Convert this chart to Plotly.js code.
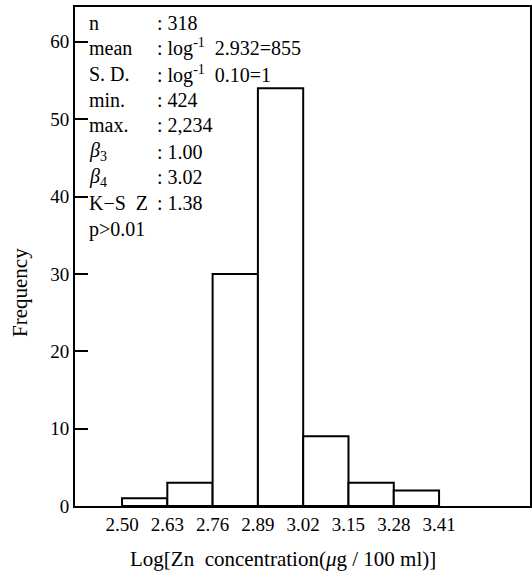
<!DOCTYPE html>
<html>
<head>
<meta charset="utf-8">
<script src="https://cdn.plot.ly/plotly-3.0.1.min.js"></script>
<style>html,body{margin:0;padding:0;background:#fff;}#chart{width:532px;height:580px;}</style>
</head>
<body>
<div id="chart"></div>
<script>
// Data
var binEdges = [2.50, 2.63, 2.76, 2.89, 3.02, 3.15, 3.28, 3.41];
var counts = [1, 3, 30, 54, 9, 3, 2];
var tickLabels = ['2.50', '2.63', '2.76', '2.89', '3.02', '3.15', '3.28', '3.41'];
var yTicks = [0, 10, 20, 30, 40, 50, 60];
var statLabels = ['n', 'mean', 'S. D.', 'min.', 'max.', '<i>β</i><sub>3</sub>', '<i>β</i><sub>4</sub>', 'K−S  Z', 'p>0.01'];
var statValues = [': 318', ': log<sup>-1</sup>  2.932=855', ': log<sup>-1</sup>  0.10=1', ': 424', ': 2,234', ': 1.00', ': 3.02', ': 1.38', ''];

var centers = [], widths = [];
for (var i = 0; i < counts.length; i++) {
  centers.push((binEdges[i] + binEdges[i + 1]) / 2);
  widths.push(binEdges[i + 1] - binEdges[i]);
}

var W = 532, H = 580;
var mL = 75, mR = 2, mT = 7, mB = 74;
function px(x) { return (x - mL) / (W - mL - mR); }
function py(y) { return (H - mB - y) / (H - mT - mB); }

var font = 'Liberation Serif, Times New Roman, serif';
var rowY = [23, 48, 74, 100, 125, 152, 177, 203, 229];
var annotations = [];
for (var k = 0; k < statLabels.length; k++) {
  annotations.push({xref: 'paper', yref: 'paper', x: px(87), y: py(rowY[k]), xanchor: 'left', yanchor: 'middle',
    text: statLabels[k], showarrow: false, font: {family: font, size: 20, color: '#000'}});
  if (statValues[k]) {
    annotations.push({xref: 'paper', yref: 'paper', x: px(155), y: py(rowY[k]), xanchor: 'left', yanchor: 'middle',
      text: statValues[k], showarrow: false, font: {family: font, size: 20, color: '#000'}});
  }
}
annotations.push({xref: 'paper', yref: 'paper', x: px(20), y: py(293), xanchor: 'center', yanchor: 'middle',
  text: 'Frequency', textangle: -90, showarrow: false, font: {family: font, size: 21, color: '#000'}});
annotations.push({xref: 'paper', yref: 'paper', x: px(283), y: py(559), xanchor: 'center', yanchor: 'middle',
  text: 'Log[Zn  concentration(<i>μ</i>g / 100 ml)]', showarrow: false, font: {family: font, size: 21, color: '#000'}});

var trace = {
  type: 'bar', x: centers, y: counts, width: widths,
  marker: {color: '#fff', line: {color: '#000', width: 2}},
  hoverinfo: 'none'
};

var layout = {
  width: W, height: H,
  margin: {l: mL, r: mR, t: mT, b: mB, pad: 0},
  paper_bgcolor: '#fff', plot_bgcolor: '#fff',
  showlegend: false,
  font: {family: font, color: '#000', size: 18},
  xaxis: {
    range: [2.365, 3.671], showgrid: false, zeroline: false,
    showline: true, mirror: true, linecolor: '#000', linewidth: 2,
    ticks: '', tickmode: 'array', tickvals: binEdges, ticktext: tickLabels,
    tickfont: {family: font, size: 19, color: '#000'}, ticklabelstandoff: 0
  },
  yaxis: {
    range: [0, 64.5], showgrid: false, zeroline: false,
    showline: true, mirror: true, linecolor: '#000', linewidth: 2,
    ticks: 'inside', ticklen: 13, tickwidth: 2, tickcolor: '#000',
    tickmode: 'array', tickvals: yTicks,
    tickfont: {family: font, size: 19, color: '#000'}
  },
  annotations: annotations
};

Plotly.newPlot('chart', [trace], layout, {staticPlot: true, displayModeBar: false});
</script>
</body>
</html>
